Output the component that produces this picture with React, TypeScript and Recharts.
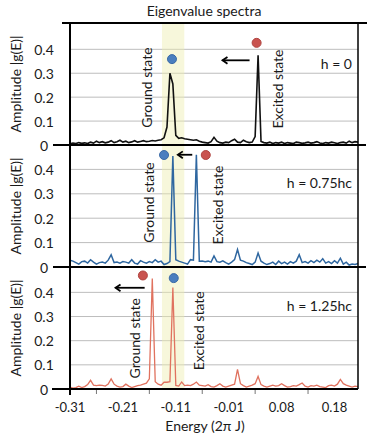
import React from 'react';
import {
  LineChart,
  Line,
  XAxis,
  YAxis,
  CartesianGrid,
  ReferenceArea,
  ReferenceDot,
  ReferenceLine,
} from 'recharts';

// ---- data -------------------------------------------------------------
// sample index -> energy axis (category-like axis, labels every 18 samples)
const energyLabels = ['-0.31', '-0.21', '-0.11', '-0.01', '0.08', '0.18'];
const xTickIndex = [0, 9, 18, 27, 36, 45, 54, 63, 72, 81, 90];
const yTicks = [0, 0.1, 0.2, 0.3, 0.4];

// h = 0 (black)
const ampH0 = [
  0.005, 0.008, 0.006, 0.010, 0.007, 0.009, 0.006, 0.012, 0.008, 0.016,
  0.010, 0.014, 0.009, 0.012, 0.018, 0.010, 0.014, 0.020, 0.012, 0.016,
  0.010, 0.013, 0.018, 0.012, 0.015, 0.018, 0.014, 0.016, 0.019, 0.017,
  0.020, 0.022, 0.030, 0.075, 0.300, 0.255, 0.040, 0.028, 0.030, 0.026,
  0.024, 0.022, 0.020, 0.022, 0.016, 0.012, 0.010, 0.008, 0.014, 0.032,
  0.016, 0.010, 0.008, 0.012, 0.010, 0.018, 0.024, 0.012, 0.010, 0.020,
  0.014, 0.010, 0.012, 0.035, 0.375, 0.015, 0.010, 0.008, 0.012, 0.006,
  0.010, 0.008, 0.012, 0.006, 0.010, 0.008, 0.006, 0.012, 0.010, 0.007,
  0.009, 0.012, 0.008, 0.010, 0.014, 0.008, 0.006, 0.010, 0.008, 0.012,
  0.009, 0.006, 0.010, 0.012, 0.008, 0.016, 0.010, 0.014, 0.012,
];

// h = 0.75hc (blue)
const ampH075 = [
  0.028, 0.024, 0.018, 0.012, 0.022, 0.024, 0.016, 0.030, 0.020, 0.012,
  0.018, 0.020, 0.016, 0.028, 0.050, 0.018, 0.020, 0.016, 0.022, 0.020,
  0.016, 0.030, 0.016, 0.012, 0.026, 0.020, 0.016, 0.022, 0.018, 0.030,
  0.020, 0.024, 0.010, 0.014, 0.022, 0.455, 0.030, 0.024, 0.020, 0.016,
  0.012, 0.030, 0.028, 0.460, 0.024, 0.025, 0.022, 0.024, 0.020, 0.045,
  0.022, 0.020, 0.025, 0.018, 0.012, 0.020, 0.030, 0.072, 0.028, 0.024,
  0.018, 0.014, 0.010, 0.020, 0.057, 0.024, 0.016, 0.010, 0.014, 0.020,
  0.010, 0.024, 0.014, 0.020, 0.012, 0.022, 0.016, 0.024, 0.050, 0.018,
  0.022, 0.016, 0.026, 0.018, 0.028, 0.020, 0.034, 0.016, 0.022, 0.014,
  0.026, 0.016, 0.036, 0.012, 0.020, 0.008, 0.012, 0.010, 0.014,
];

// h = 1.25hc (red)
const ampH125 = [
  0.008, 0.004, 0.006, 0.012, 0.006, 0.010, 0.018, 0.036, 0.016, 0.014,
  0.016, 0.015, 0.012, 0.020, 0.042, 0.020, 0.012, 0.008, 0.010, 0.020,
  0.012, 0.006, 0.010, 0.014, 0.016, 0.020, 0.024, 0.042, 0.457, 0.030,
  0.020, 0.016, 0.028, 0.028, 0.030, 0.420, 0.015, 0.012, 0.029, 0.014,
  0.016, 0.014, 0.020, 0.029, 0.016, 0.014, 0.012, 0.018, 0.010, 0.008,
  0.014, 0.022, 0.012, 0.008, 0.012, 0.016, 0.020, 0.081, 0.022, 0.014,
  0.008, 0.012, 0.016, 0.022, 0.052, 0.018, 0.012, 0.008, 0.012, 0.016,
  0.012, 0.014, 0.022, 0.014, 0.008, 0.010, 0.014, 0.012, 0.018, 0.025,
  0.012, 0.008, 0.014, 0.012, 0.016, 0.010, 0.008, 0.006, 0.014, 0.016,
  0.012, 0.020, 0.040, 0.022, 0.016, 0.012, 0.008, 0.012, 0.010,
];

const band = [31.3, 38.9];

const rows = ampH0.map((v, i) => ({ i, h0: v, h075: ampH075[i], h125: ampH125[i] }));

// markers: [x index, amplitude]
const panels = [
  {
    key: 'h0', color: '#111111', width: 1.6, top: 23, bottom: 145, yMax: 0.51,
    blue: [34.7, 0.359], red: [63.5, 0.427], arrow: [61.1, 51.9, 0.354],
  },
  {
    key: 'h075', color: '#2f67a0', width: 1.5, top: 145, bottom: 267, yMax: 0.5,
    blue: [32.0, 0.459], red: [46.2, 0.459], arrow: [41.6, 36.7, 0.46],
  },
  {
    key: 'h125', color: '#e0725f', width: 1.3, top: 267, bottom: 389, yMax: 0.505,
    blue: [35.3, 0.459], red: [24.8, 0.47], arrow: [25.4, 15.5, 0.419],
  },
];

const W = 374;
const H = 441;
const FONT = 'Lato, "Open Sans", sans-serif';
const TXT = '#1a1a1a';

const ArrowShape = (p: any) => {
  const { x1, y1, x2, y2 } = p;
  const ang = Math.atan2(y2 - y1, x2 - x1);
  const L = 6;
  const w = 0.6;
  const ax = x2 - L * Math.cos(ang - w);
  const ay = y2 - L * Math.sin(ang - w);
  const bx = x2 - L * Math.cos(ang + w);
  const by = y2 - L * Math.sin(ang + w);
  return (
    <g>
      <line x1={x1} y1={y1} x2={x2} y2={y2} stroke="#000" strokeWidth={1.8} />
      <polyline points={`${ax},${ay} ${x2},${y2} ${bx},${by}`} fill="none" stroke="#000" strokeWidth={1.8} />
    </g>
  );
};

const YTick = (props: any) => {
  const { y, payload } = props;
  const v = payload.value;
  return (
    <text x={44} y={y} textAnchor="middle" dominantBaseline="central" fontSize={14} fill={TXT} fontFamily={FONT}>
      {v === 0 ? '0' : v.toFixed(1)}
    </text>
  );
};

const XTick = (props: any) => {
  const { x, y, payload } = props;
  const v = payload.value;
  if (v % 18 === 0) {
    return (
      <text x={x} y={y + 23} textAnchor="middle" fontSize={13} fill={TXT} fontFamily={FONT}>
        {energyLabels[v / 18]}
      </text>
    );
  }
  return <line x1={x} y1={y} x2={x} y2={y + 5} stroke="#777" strokeWidth={1} />;
};

function Panel({ cfg, last }: { cfg: any; last: boolean }) {
  const xAxisH = last ? 30 : 0;
  return (
    <div style={{ position: 'absolute', left: 0, top: 0 }}>
      <LineChart
        width={W}
        height={H}
        data={rows}
        margin={{ top: cfg.top, right: 16, bottom: H - cfg.bottom - xAxisH, left: 0 }}
      >
        <ReferenceArea
          x1={band[0]}
          x2={band[1]}
          y1={0}
          y2={cfg.yMax}
          fill="#eeeeb0"
          fillOpacity={0.45}
          stroke="none"
        />
        <CartesianGrid vertical={false} stroke="#bdbdbd" strokeWidth={1} />
        <XAxis
          type="number"
          dataKey="i"
          domain={[0, 98]}
          ticks={xTickIndex}
          interval={0}
          hide={!last}
          height={xAxisH}
          axisLine={false}
          tickLine={false}
          tickSize={0}
          tickMargin={0}
          tick={<XTick />}
        />
        <YAxis
          type="number"
          domain={[0, cfg.yMax]}
          ticks={yTicks}
          width={70}
          axisLine={false}
          tickLine={false}
          tickSize={0}
          tick={<YTick />}
          interval={0}
        />
        <Line
          type="linear"
          dataKey={cfg.key}
          stroke={cfg.color}
          strokeWidth={cfg.width}
          dot={false}
          isAnimationActive={false}
        />
        <ReferenceLine
          segment={[
            { x: cfg.arrow[0], y: cfg.arrow[2] },
            { x: cfg.arrow[1], y: cfg.arrow[2] },
          ]}
          shape={ArrowShape}
        />
        <ReferenceDot x={cfg.blue[0]} y={cfg.blue[1]} r={4.5} fill="#4a7ebf" stroke="#3a6aa6" strokeWidth={1} />
        <ReferenceDot x={cfg.red[0]} y={cfg.red[1]} r={4.5} fill="#c9534f" stroke="#b04440" strokeWidth={1} />
      </LineChart>
    </div>
  );
}

const labelStyle = { fontFamily: FONT, fontSize: 14, fill: TXT } as const;

export default function App() {
  return (
    <div style={{ position: 'absolute', left: 0, top: 0, width: W, height: H, background: '#fff', fontFamily: FONT }}>
      {panels.map((cfg, k) => (
        <Panel key={cfg.key} cfg={cfg} last={k === panels.length - 1} />
      ))}
      <svg width={W} height={H} style={{ position: 'absolute', left: 0, top: 0, pointerEvents: 'none' }}>
        {/* frame */}
        <line x1={62} y1={23} x2={367} y2={23} stroke="#000" strokeWidth={2} />
        <line x1={70} y1={22} x2={70} y2={395} stroke="#000" strokeWidth={2} />
        <line x1={358} y1={22} x2={358} y2={389} stroke="#000" strokeWidth={1.5} />
        <line x1={53} y1={145} x2={366} y2={145} stroke="#000" strokeWidth={2} />
        <line x1={53} y1={267} x2={366} y2={267} stroke="#000" strokeWidth={2} />
        <line x1={52} y1={389} x2={358} y2={389} stroke="#000" strokeWidth={2} />

        <text x={204} y={10} textAnchor="middle" dominantBaseline="central" {...labelStyle}>Eigenvalue spectra</text>

        {[84, 206, 328].map((cy) => (
          <text key={cy} x={15} y={cy} textAnchor="middle" dominantBaseline="central" transform={`rotate(-90 15 ${cy})`} {...labelStyle}>
            Amplitude  |g(E)|
          </text>
        ))}

        <text x={146} y={87.5} textAnchor="middle" dominantBaseline="central" transform="rotate(-90 146 87.5)" {...labelStyle}>Ground state</text>
        <text x={277.5} y={89} textAnchor="middle" dominantBaseline="central" transform="rotate(-90 277.5 89)" {...labelStyle}>Excited state</text>
        <text x={352} y={63} textAnchor="end" dominantBaseline="central" {...labelStyle}>h = 0</text>

        <text x={148.3} y={202.5} textAnchor="middle" dominantBaseline="central" transform="rotate(-90 148.3 202.5)" {...labelStyle}>Ground state</text>
        <text x={217.2} y={205} textAnchor="middle" dominantBaseline="central" transform="rotate(-90 217.2 205)" {...labelStyle}>Excited state</text>
        <text x={352} y={182.7} textAnchor="end" dominantBaseline="central" {...labelStyle}>h = 0.75hc</text>

        <text x={134.7} y={338.3} textAnchor="middle" dominantBaseline="central" transform="rotate(-90 134.7 338.3)" {...labelStyle}>Ground state</text>
        <text x={198.3} y={330.8} textAnchor="middle" dominantBaseline="central" transform="rotate(-90 198.3 330.8)" {...labelStyle}>Excited state</text>
        <text x={352} y={305.7} textAnchor="end" dominantBaseline="central" {...labelStyle}>h = 1.25hc</text>

        <text x={205} y={425} textAnchor="middle" dominantBaseline="central" {...labelStyle}>Energy (2π J)</text>
      </svg>
    </div>
  );
}
